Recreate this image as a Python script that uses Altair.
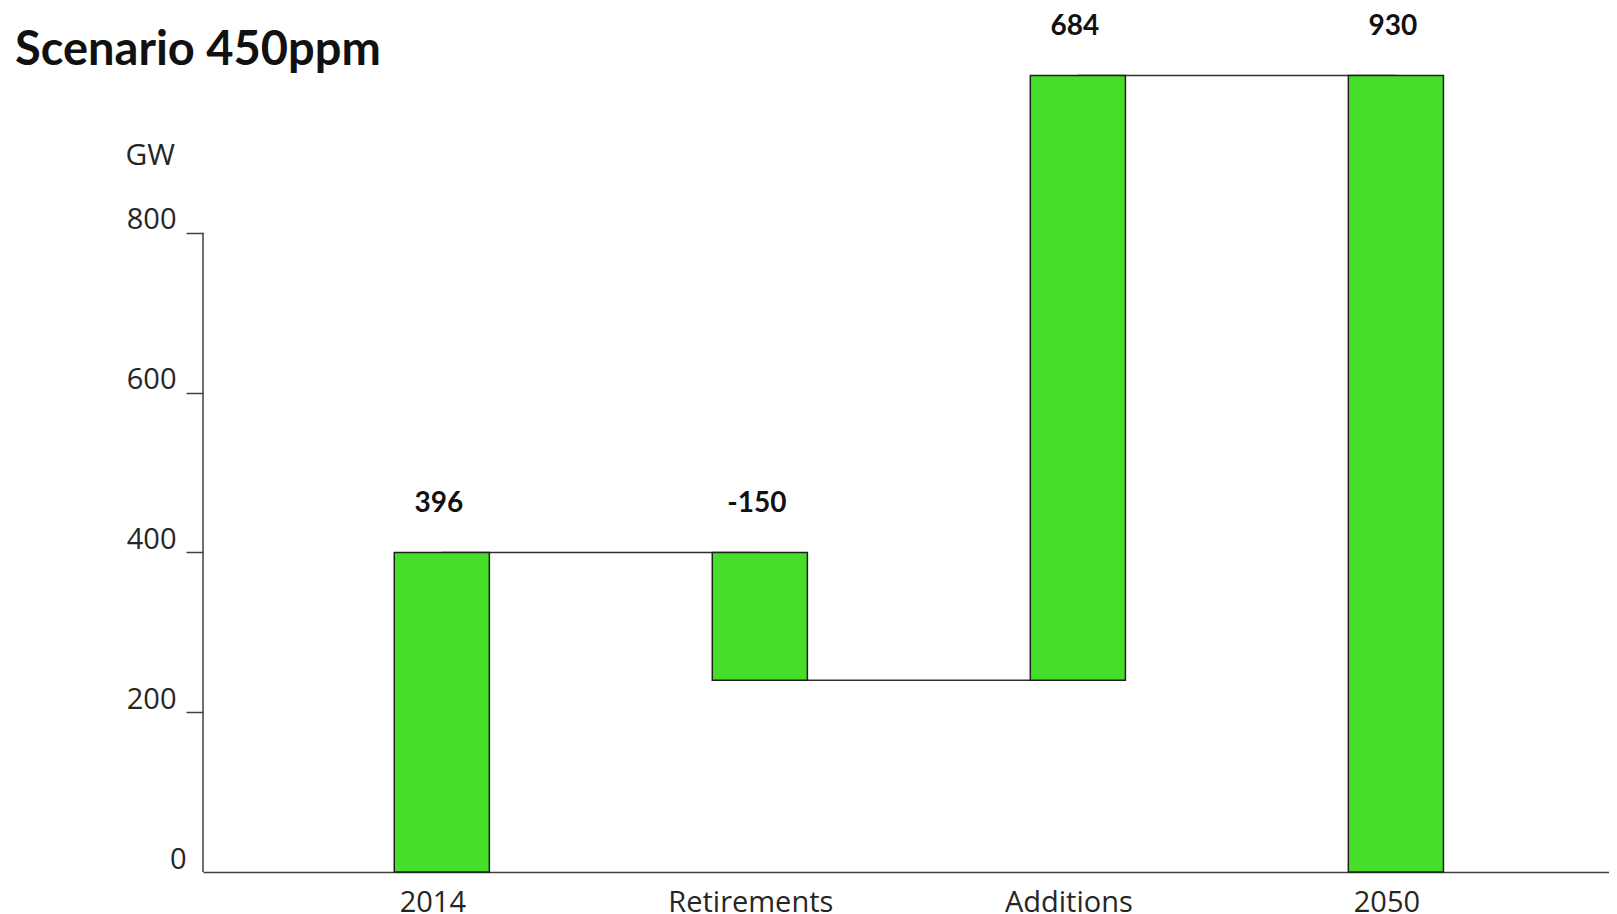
import altair as alt
import pandas as pd

# ---- data ----
categories = ["2014", "Retirements", "Additions", "2050"]
bar_start = [0, 400, 240, 0]
bar_end = [400, 240, 997, 997]
value_labels = ["396", "-150", "684", "930"]

conn_from = ["2014", "Retirements", "Additions"]
conn_to = ["Retirements", "Additions", "2050"]
conn_level = [400, 240, 997]

y_ticks = [0, 200, 400, 600, 800]
title_text = "Scenario 450ppm"
unit_text = "GW"

bars_df = pd.DataFrame({"category": categories, "start": bar_start,
                        "end": bar_end, "label": value_labels})
bars_df["top"] = bars_df[["start", "end"]].max(axis=1)
conn_df = pd.DataFrame({"from": conn_from, "to": conn_to, "level": conn_level})
axis_df = pd.DataFrame({"lo": [0], "hi": [max(y_ticks)], "title": [title_text]})

BOLD_FONT = "Lato"
FONT = "Open Sans"
TXT = "#262626"
LINE = "#404040"

x_scale = alt.Scale(domain=categories, paddingInner=0.701, paddingOuter=0.561,
                    align=0.536, round=False)
y_scale = alt.Scale(domain=[0, 1000], nice=False, zero=True)

x_axis = alt.Axis(title=None, ticks=False, domainColor=LINE, domainWidth=1.5,
                  labelFont=FONT, labelFontSize=29, labelColor=TXT, labelPadding=16,
                  labelAngle=0, labelOffset=-9, labelBaseline="top")
y_axis = alt.Axis(title=unit_text, titleAngle=0, titleX=-78, titleY=91, titleAlign="left",
                  titleBaseline="alphabetic", titleFont=FONT, titleFontSize=30,
                  titleFontWeight="normal", titleColor=TXT,
                  values=y_ticks, domain=False, grid=False, tickSize=17, tickWidth=1.5,
                  tickColor={"condition": {"test": "datum.value === 0", "value": "transparent"}, "value": LINE},
                  labelPadding={"condition": {"test": "datum.value === 0", "value": 0}, "value": 10},
                  labelFont=FONT, labelFontSize=29, labelColor=TXT, labelOffset=-13, format="d")

connectors = alt.Chart(conn_df).mark_rule(color="#303030", strokeWidth=1.5).encode(
    x=alt.X("from:N", scale=x_scale, sort=categories, axis=x_axis),
    x2="to:N",
    y=alt.Y("level:Q", scale=y_scale, axis=y_axis),
)

bars = alt.Chart(bars_df).mark_bar(color="#47DE2A", stroke="#1f1f1f", strokeWidth=1.5).encode(
    x=alt.X("category:N", scale=x_scale, sort=categories, axis=x_axis),
    y=alt.Y("start:Q", scale=y_scale, axis=y_axis),
    y2="end:Q",
)

labels = alt.Chart(bars_df).mark_text(font=BOLD_FONT, fontSize=28, fontWeight="bold", color="#111111",
                                      dy=-48, dx=-3, baseline="middle", align="center").encode(
    x=alt.X("category:N", scale=x_scale, sort=categories),
    y=alt.Y("top:Q", scale=y_scale),
    text="label:N",
)

yline = alt.Chart(axis_df).mark_rule(color=LINE, strokeWidth=1.5).encode(
    x=alt.value(0),
    y=alt.Y("lo:Q", scale=y_scale),
    y2="hi:Q",
)

title = alt.Chart(axis_df).mark_text(font=BOLD_FONT, fontSize=47, fontWeight="bold", color="#111111",
                                     align="left", baseline="alphabetic").encode(
    x=alt.value(-188),
    y=alt.value(-8),
    text="title:N",
)

chart = alt.layer(connectors, bars, labels, yline, title).properties(
    width=1406,
    height=799,
    autosize="none",
    padding={"left": 195, "top": 65, "right": 0, "bottom": 60},
    background="white",
).configure_view(stroke="transparent", strokeWidth=0)

chart.save("out.html", embed_options={"renderer": "svg", "actions": False})
